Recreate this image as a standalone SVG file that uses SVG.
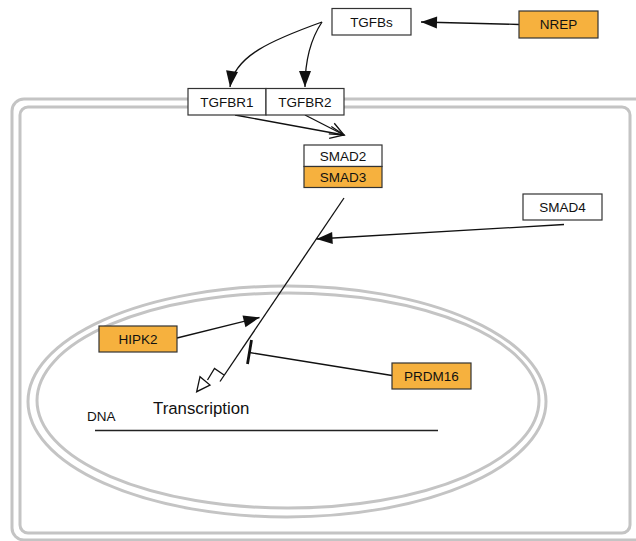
<svg xmlns="http://www.w3.org/2000/svg" width="636" height="541" viewBox="0 0 636 541">
<defs>
<style>
.mem{fill:none;stroke:#c4c4c4;stroke-width:3}
.box{stroke:#333;stroke-width:1.2}
.w{fill:#fff}
.o{fill:#f6b13e}
.t{font-family:"Liberation Sans",Arial,sans-serif;font-size:13.5px;fill:#111;text-anchor:middle;dominant-baseline:central}
.e{fill:none;stroke:#111;stroke-width:1.3}
</style>
<marker id="fa" markerUnits="userSpaceOnUse" markerWidth="16" markerHeight="12" refX="16" refY="6" orient="auto" overflow="visible">
<path d="M0,0 L16,6 L0,12 z" fill="#111"/>
</marker>
<marker id="oa" markerUnits="userSpaceOnUse" markerWidth="14" markerHeight="12" refX="14" refY="6" orient="auto" overflow="visible">
<path d="M0,0 L14,6 L0,12" fill="none" stroke="#111" stroke-width="1.3"/>
</marker>
</defs>
<rect width="636" height="541" fill="#fff"/>
<g id="cell">
<rect class="mem" x="12" y="99" width="640" height="441" rx="12"/>
<rect class="mem" x="20" y="107" width="610" height="426" rx="8"/>
</g>
<g id="nucleus">
<ellipse class="mem" cx="287" cy="401.5" rx="259" ry="115.5"/>
<ellipse class="mem" cx="288" cy="400.5" rx="251" ry="107.5"/>
</g>
<g id="dna">
<line x1="95" y1="430.5" x2="438" y2="430.5" stroke="#222" stroke-width="1.3"/>
<text x="87" y="421" font-family="Liberation Sans,Arial,sans-serif" font-size="13.5" fill="#111">DNA</text>
</g>
<g id="connectors">
<line class="e" x1="519" y1="24.5" x2="421" y2="22" marker-end="url(#fa)"/>
<path class="e" d="M322,22 C272,40 234,56 230,87" marker-end="url(#fa)"/>
<path class="e" d="M322,22 C310,40 305,60 305,87" marker-end="url(#fa)"/>
<line class="e" x1="235" y1="115" x2="344" y2="135" marker-end="url(#oa)"/>
<line class="e" x1="305" y1="115" x2="344" y2="135" marker-end="url(#oa)"/>
<line class="e" x1="344" y1="198" x2="220" y2="381.5"/>
<path class="e" d="M224,375 L214.5,368.5 L207.5,380"/>
<path d="M196.7,391.7 L200,376.7 L210,385 z" fill="#fff" stroke="#111" stroke-width="1.3"/>
<line class="e" x1="564" y1="224.5" x2="316.5" y2="239" marker-end="url(#fa)"/>
<line class="e" x1="177" y1="338" x2="259.5" y2="317.5" marker-end="url(#fa)"/>
<line class="e" x1="392" y1="375.5" x2="249.5" y2="352.5"/>
<line x1="251.5" y1="340" x2="247.5" y2="364" stroke="#111" stroke-width="2.8"/>
</g>
<g id="TGFBs"><rect class="box w" x="332" y="8.5" width="79" height="26.5"/><text class="t" x="371.5" y="22">TGFBs</text></g>
<g id="NREP"><rect class="box o" x="519" y="11" width="79" height="27"/><text class="t" x="558.5" y="24.5">NREP</text></g>
<g id="TGFBR1"><rect class="box w" x="188" y="88.5" width="78" height="26.5"/><text class="t" x="227" y="102">TGFBR1</text></g>
<g id="TGFBR2"><rect class="box w" x="266" y="88.5" width="78" height="26.5"/><text class="t" x="305" y="102">TGFBR2</text></g>
<g id="SMAD2"><rect class="box w" x="304" y="145" width="78" height="21.5"/><text class="t" x="343" y="156">SMAD2</text></g>
<g id="SMAD3"><rect class="box o" x="304" y="166.5" width="78" height="21"/><text class="t" x="343" y="177.5">SMAD3</text></g>
<g id="SMAD4"><rect class="box w" x="523" y="194" width="79" height="26"/><text class="t" x="562.5" y="207">SMAD4</text></g>
<g id="HIPK2"><rect class="box o" x="99" y="326" width="78" height="26"/><text class="t" x="138" y="339">HIPK2</text></g>
<g id="PRDM16"><rect class="box o" x="392" y="363" width="79" height="26"/><text class="t" x="431.5" y="376">PRDM16</text></g>
<g id="Transcription"><text x="153" y="414" font-family="Liberation Sans,Arial,sans-serif" font-size="16.8" fill="#111">Transcription</text></g>
</svg>
